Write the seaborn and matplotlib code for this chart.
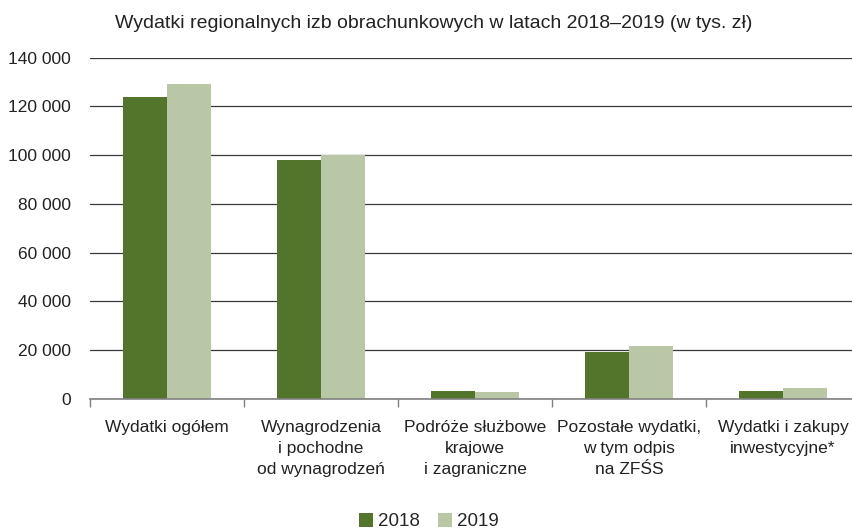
import numpy as np
import pandas as pd
import matplotlib
matplotlib.use("Agg")
import matplotlib.pyplot as plt
import seaborn as sns

# Data (thousands of PLN)
categories = [
    "Wydatki ogółem",
    "Wynagrodzenia\ni pochodne\nod wynagrodzeń",
    "Podróże służbowe\nkrajowe\ni zagraniczne",
    "Pozostałe wydatki,\nw tym odpis\nna ZFŚS",
    "Wydatki i zakupy\ninwestycyjne*",
]
values_2018 = [123900, 98100, 3150, 19200, 3300]
values_2019 = [129300, 100000, 2900, 21600, 4400]
years = ["2018", "2019"]
colors = ["#52752B", "#BAC7A7"]

df = pd.DataFrame({
    "kategoria": categories * 2,
    "rok": [years[0]] * len(categories) + [years[1]] * len(categories),
    "wartosc": values_2018 + values_2019,
})

sns.set_style("white")
plt.rcParams["font.family"] = ["Liberation Sans", "DejaVu Sans"]

fig = plt.figure(figsize=(8.53, 5.29), dpi=100)
ax = fig.add_axes([0.1055, 0.246, 0.9027, 0.645])

sns.barplot(data=df, x="kategoria", y="wartosc", hue="rok", palette=colors,
            width=0.57, gap=0, saturation=1, ax=ax, legend=True,
            edgecolor="none", linewidth=0)

ax.set_xlim(-0.5, 4.5)
ax.set_ylim(0, 140000)
ax.set_yticks(np.arange(0, 140001, 20000))
ax.set_yticklabels([f"{int(v):,}".replace(",", " ") for v in np.arange(0, 140001, 20000)])
ax.yaxis.grid(True, color="#3a3a3a", linewidth=0.9)
ax.set_axisbelow(True)
ax.set_xlabel("")
ax.set_ylabel("")

for s in ["top", "right", "left"]:
    ax.spines[s].set_visible(False)
ax.spines["bottom"].set_color("#808080")
ax.spines["bottom"].set_linewidth(1.2)

ax.tick_params(axis="y", length=0, labelsize=12.5, pad=14, colors="#222222")
ax.tick_params(axis="x", which="major", length=0, labelsize=12.5, pad=15, colors="#222222")
# boundary ticks between categories
ax.set_xticks(np.arange(-0.5, 5.0, 1.0), minor=True)
ax.tick_params(axis="x", which="minor", bottom=True, direction="out",
               length=6, color="#808080", width=1)
for lbl in ax.get_xticklabels():
    lbl.set_linespacing(1.5)

fig.text(0.509, 0.955, "Wydatki regionalnych izb obrachunkowych w latach 2018–2019 (w tys. zł)",
         ha="center", va="center", fontsize=14, color="#222222")

handles, labels = ax.get_legend_handles_labels()
ax.legend(handles, labels, loc="center", bbox_to_anchor=(0.44, -0.36),
          ncol=2, frameon=False, fontsize=13.5, handlelength=0.75, handleheight=0.75,
          handletextpad=0.25, columnspacing=1.0)

fig.savefig("out.png", dpi=100)
